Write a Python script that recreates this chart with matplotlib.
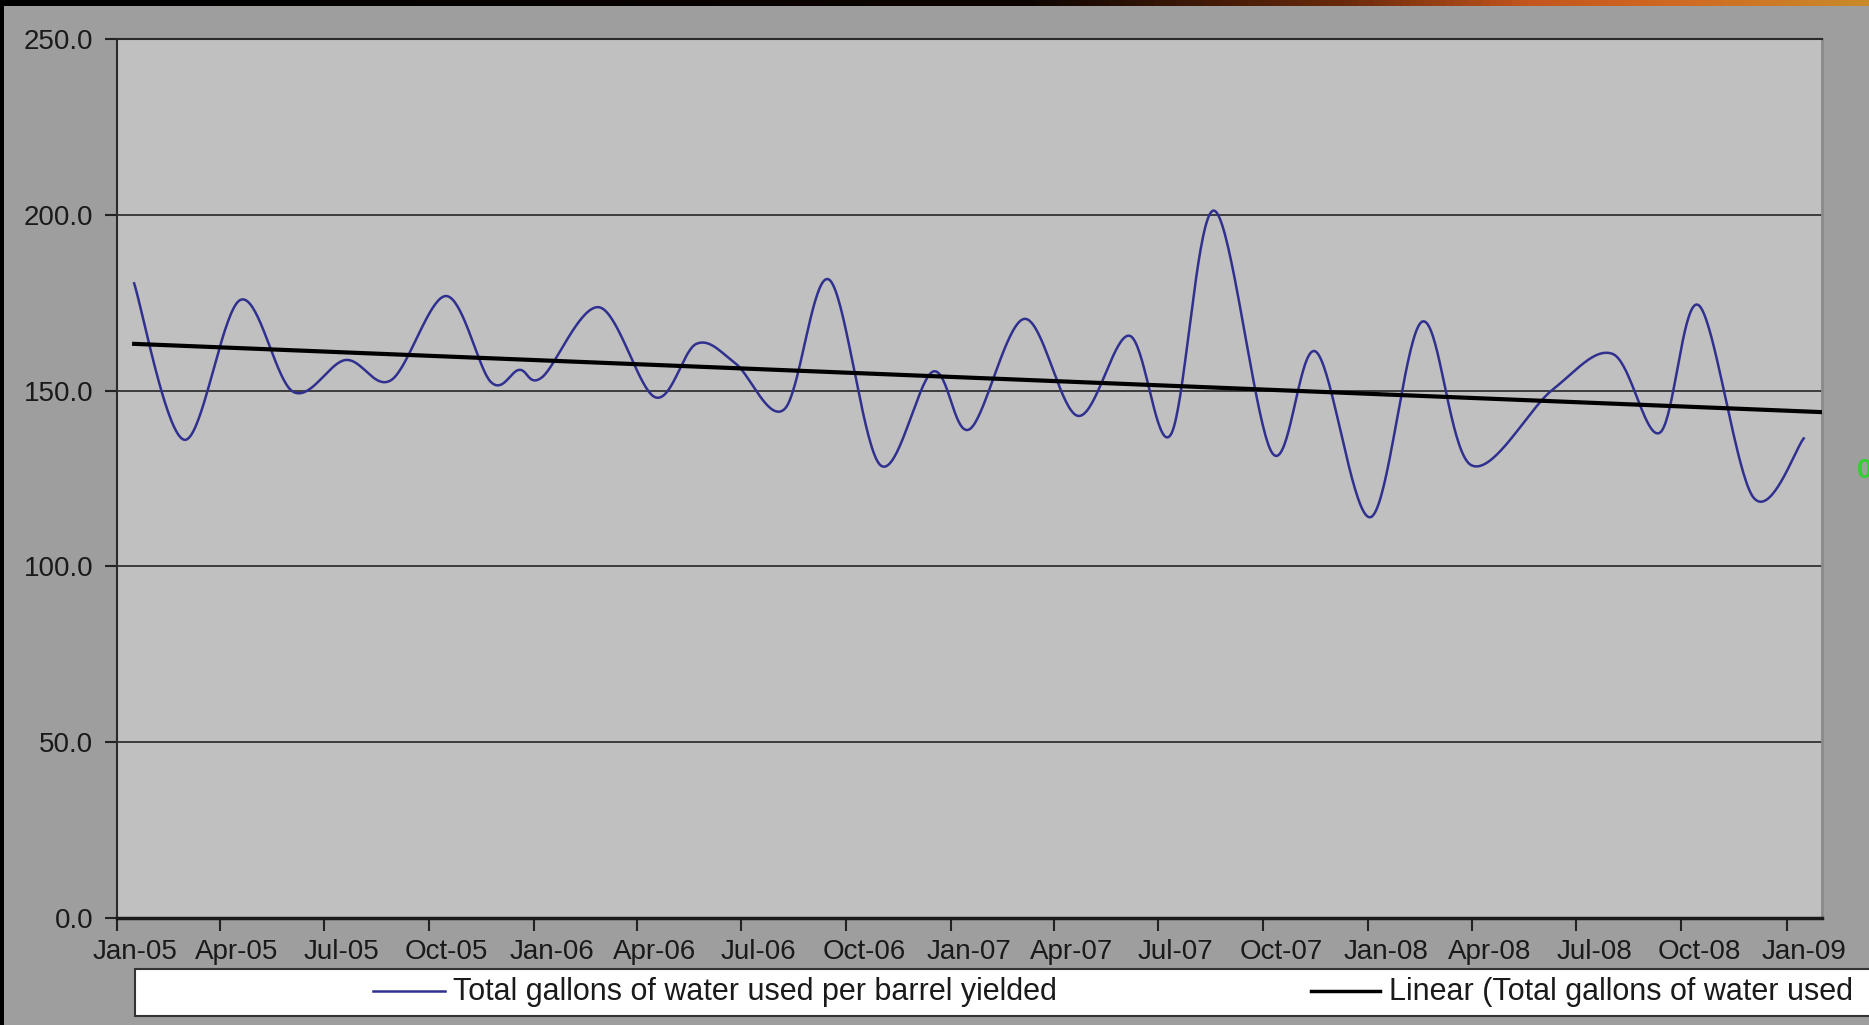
import numpy as np
import pandas as pd
import matplotlib.pyplot as plt
import matplotlib.dates as mdates
from matplotlib.patches import Rectangle
from matplotlib.lines import Line2D
from matplotlib.colors import LinearSegmentedColormap

plt.rcParams['font.family'] = ['Liberation Sans', 'DejaVu Sans']

W, H = 1869, 1025

# quarterly axis labels
quarter_labels = ['Jan-05', 'Apr-05', 'Jul-05', 'Oct-05', 'Jan-06', 'Apr-06', 'Jul-06',
                  'Oct-06', 'Jan-07', 'Apr-07', 'Jul-07', 'Oct-07', 'Jan-08', 'Apr-08',
                  'Jul-08', 'Oct-08', 'Jan-09']
quarter_starts = pd.date_range('2005-01-01', '2009-01-01', freq='QS')

# report dates and gallons of water per barrel
report_dates = ['2005-01-16', '2005-03-01', '2005-04-19', '2005-06-04', '2005-07-20',
                '2005-08-29', '2005-10-16', '2005-11-24', '2005-12-19', '2006-01-08',
                '2006-02-27', '2006-04-17', '2006-05-23', '2006-06-26', '2006-08-08',
                '2006-09-16', '2006-10-31', '2006-12-16', '2007-01-17', '2007-03-06',
                '2007-04-22', '2007-06-06', '2007-07-12', '2007-08-19', '2007-10-09',
                '2007-11-16', '2008-01-03', '2008-02-17', '2008-03-31', '2008-06-10',
                '2008-08-02', '2008-09-12', '2008-10-16', '2008-12-03', '2009-01-16']
gallons_per_barrel = [180.5, 136.0, 175.8, 149.7, 158.7, 153.0, 176.9, 152.5, 155.9, 153.8,
                      173.7, 148.1, 163.3, 157.8, 144.7, 181.6, 128.8, 155.4, 139.0, 170.4,
                      142.8, 165.6, 137.4, 201.2, 132.2, 161.1, 114.0, 169.6, 128.8, 150.2,
                      160.4, 138.0, 174.3, 119.6, 136.4]

series_label = 'Total gallons of water used per barrel yielded'
trend_label = 'Linear (Total gallons of water used'

x_start, x_end = mdates.date2num(pd.Timestamp('2005-01-01')), mdates.date2num(pd.Timestamp('2009-02-01'))
y_max = 250


def smooth_curve(x, y, sx, sy, steps=40):
    # Bezier smoothing through every point, control points from the neighbours
    p = np.column_stack([np.asarray(x, float) * sx, np.asarray(y, float) * sy])
    p = np.vstack([p[0], p, p[-1]])
    t = np.linspace(0, 1, steps)[:, None]
    pts = []
    for i in range(len(x) - 1):
        p0, p1, p2, p3 = p[i], p[i + 1], p[i + 2], p[i + 3]
        c1 = p1 + (p2 - p0) / 6
        c2 = p2 - (p3 - p1) / 6
        pts.append((1 - t)**3 * p1 + 3 * (1 - t)**2 * t * c1 + 3 * (1 - t) * t**2 * c2 + t**3 * p2)
    pts = np.vstack(pts)
    return pts[:, 0] / sx, pts[:, 1] / sy


def fx(x):
    return x / W


def fy(y):
    return 1 - y / H


fig = plt.figure(figsize=(W / 100, H / 100), dpi=100)
fig.patch.set_facecolor('black')

# chart area
fig.add_artist(Rectangle((fx(4), 0), 1, fy(6), transform=fig.transFigure,
                         facecolor='#9e9e9e', edgecolor='none', zorder=0))

# strip of the slide behind the chart along the top
strip = fig.add_axes([0, fy(6), 1, 6 / H])
strip_cmap = LinearSegmentedColormap.from_list(
    'strip', [(0, '#000000'), (0.55, '#0d0502'), (0.72, '#6a2a0c'),
              (0.82, '#c4561e'), (0.9, '#d06a22'), (1.0, '#c98a2a')])
strip.imshow(np.linspace(0, 1, 256)[None, :], aspect='auto', cmap=strip_cmap)
strip.set_axis_off()

ax_left, ax_right, ax_top, ax_bottom = 117, 1822, 39, 918
ax = fig.add_axes([fx(ax_left), fy(ax_bottom), (ax_right - ax_left) / W, (ax_bottom - ax_top) / H])
ax.set_facecolor('#c0c0c0')

x = mdates.date2num(pd.to_datetime(report_dates))
px_per_day = (ax_right - ax_left) / (x_end - x_start)
px_per_unit = (ax_bottom - ax_top) / y_max
sx, sy = smooth_curve(x, gallons_per_barrel, px_per_day, px_per_unit)
ax.plot(sx, sy, color='#30308f', linewidth=1.8, zorder=3)

slope, intercept = np.polyfit(x, gallons_per_barrel, 1)
tx = np.array([x[0], x_end])
ax.plot(tx, slope * tx + intercept, color='black', linewidth=3.0, zorder=4)

ax.set_xlim(x_start, x_end)
ax.set_ylim(0, y_max)

ax.set_yticks(np.arange(0, y_max + 1, 50))
ax.set_yticklabels([f'{v:.1f}' for v in np.arange(0, y_max + 1, 50)])
ax.yaxis.grid(True, color='#3c3c3c', linewidth=1.4)
ax.set_axisbelow(True)

# tick marks at the start of each quarter, labels centred on the month
tick_pos = mdates.date2num(quarter_starts)
label_pos = tick_pos + quarter_starts.days_in_month.values / 2
ax.set_xticks(tick_pos)
ax.set_xticklabels([])
ax.set_xticks(label_pos, quarter_labels, minor=True)
ax.tick_params(axis='x', which='major', length=9, width=1.5, direction='out', color='#222222')
ax.tick_params(axis='x', which='minor', length=0, pad=15, labelsize=20, labelcolor='#1a1a1a')
ax.tick_params(axis='y', length=9, width=1.5, direction='out', color='#222222', pad=8,
               labelsize=20, labelcolor='#1a1a1a')

for side in ['left', 'top']:
    ax.spines[side].set_color('#2a2a2a')
    ax.spines[side].set_linewidth(1.5)
ax.spines['bottom'].set_color('#1a1a1a')
ax.spines['bottom'].set_linewidth(2.5)
ax.spines['right'].set_color('#8a8a8a')
ax.spines['right'].set_linewidth(2.0)

# legend box below the plot
fig.add_artist(Rectangle((fx(135), fy(1016)), 1, (1016 - 969) / H, transform=fig.transFigure,
                         facecolor='white', edgecolor='#333333', linewidth=1.5, zorder=5))
fig.add_artist(Line2D([fx(373), fx(445)], [fy(991), fy(991)], transform=fig.transFigure,
                      color='#30308f', linewidth=1.8, zorder=6))
fig.text(fx(453), fy(992), series_label, fontsize=22, color='#1a1a1a', va='center', zorder=6)
fig.add_artist(Line2D([fx(1311), fx(1380)], [fy(991), fy(991)], transform=fig.transFigure,
                      color='black', linewidth=2.5, zorder=6))
fig.text(fx(1389), fy(992), trend_label, fontsize=22, color='#1a1a1a', va='center', zorder=6)

# data label cut off at the right edge
fig.text(fx(1857), fy(471), '0', fontsize=20, color='#2fd12f', va='center', fontweight='bold')

fig.savefig('out.png', dpi=100, facecolor=fig.get_facecolor())
